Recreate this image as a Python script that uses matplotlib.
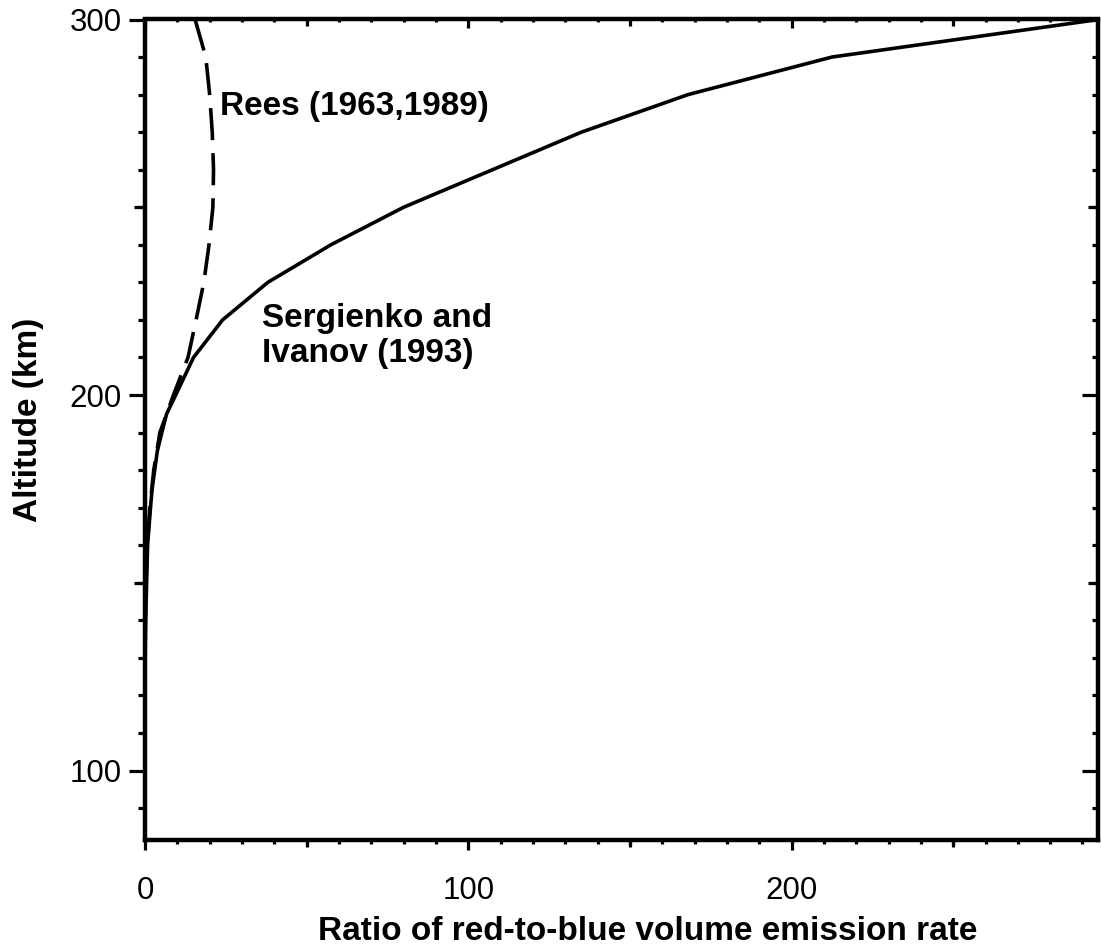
import matplotlib
matplotlib.use("Agg")
import matplotlib.pyplot as plt
from matplotlib.ticker import FixedLocator, MultipleLocator

# ---- data ----
altitude_sergienko = [300, 290, 280, 270, 260, 250, 240, 230, 220, 210, 200, 195,
                      190, 185, 180, 175, 170, 160, 150, 140, 130, 120, 110, 100, 90, 81.5]
ratio_sergienko = [295, 212.5, 168, 135, 107.5, 80, 57.5, 38, 24, 15, 9.5, 6.7,
                   5.2, 3.8, 3.0, 2.2, 1.7, 0.8, 0.5, 0.2, 0.05, 0, 0, 0, 0, 0]

altitude_rees = [300, 290, 280, 270, 260, 250, 240, 230, 220, 210, 200, 190,
                 180, 170, 160, 150, 140, 130]
ratio_rees = [15.5, 18.8, 20.0, 20.8, 21.2, 21.0, 19.8, 18.2, 15.8, 13.3, 8.8, 4.6,
              2.7, 1.5, 0.7, 0.3, 0.1, 0.0]

x_major = [0, 100, 200]
x_mid = [50, 150, 250]
y_major = [100, 200, 300]
y_mid = [150, 250]
x_limits = (0, 294.8)
y_limits = (81.5, 300)

x_label = "Ratio of red-to-blue volume emission rate"
y_label = "Altitude (km)"
label_rees = "Rees (1963,1989)"
label_sergienko = "Sergienko and\nIvanov (1993)"

plt.rcParams['font.family'] = ['Liberation Sans', 'DejaVu Sans']

W, H = 1101, 952
fig = plt.figure(figsize=(W / 100, H / 100), dpi=100)
left, right, top, bottom = 145, 1098, 19.5, 840
ax = fig.add_axes([left / W, 1 - bottom / H, (right - left) / W, (bottom - top) / H])

ax.plot(ratio_sergienko, altitude_sergienko, color='black', lw=2.6)
ax.plot(ratio_rees, altitude_rees, color='black', lw=2.6, linestyle=(0, (8.9, 3.6)))

ax.set_xlim(*x_limits)
ax.set_ylim(*y_limits)

for s in ax.spines.values():
    s.set_linewidth(3.2)

TW = 2.3
TICKFS = 22.5
BOLDFS = 24
# main (bottom / left) ticks, outward
ax.xaxis.set_major_locator(FixedLocator(x_major))
ax.xaxis.set_minor_locator(MultipleLocator(10))
ax.yaxis.set_major_locator(FixedLocator(y_major))
ax.yaxis.set_minor_locator(MultipleLocator(10))
ax.tick_params(axis='x', which='major', direction='out', length=7.2, width=TW,
               labelsize=TICKFS, pad=18.5, top=False)
ax.tick_params(axis='x', which='minor', direction='out', length=2.9, width=TW, top=False)
ax.tick_params(axis='y', which='major', direction='out', length=11.5, width=TW,
               labelsize=TICKFS, pad=5, right=False)
ax.tick_params(axis='y', which='minor', direction='out', length=4.8, width=TW, right=False)


def hide_spines(a):
    for s in a.spines.values():
        s.set_visible(False)


# intermediate (50s) ticks bottom/left
sb = ax.secondary_xaxis('bottom')
sb.set_xticks(x_mid)
sb.tick_params(direction='out', length=5.0, width=TW, labelbottom=False)
hide_spines(sb)

sl = ax.secondary_yaxis('left')
sl.set_yticks(y_mid)
sl.tick_params(direction='out', length=8.2, width=TW, labelleft=False)
hide_spines(sl)

# top ticks, inward
st = ax.secondary_xaxis('top')
st.set_xticks(x_major)
st.xaxis.set_minor_locator(MultipleLocator(10))
st.tick_params(which='major', direction='in', length=6.5, width=TW, labeltop=False)
st.tick_params(which='minor', direction='in', length=2.5, width=TW)
hide_spines(st)
st2 = ax.secondary_xaxis('top')
st2.set_xticks(x_mid)
st2.tick_params(direction='in', length=4.7, width=TW, labeltop=False)
hide_spines(st2)

# right ticks, inward
sr = ax.secondary_yaxis('right')
sr.set_yticks(y_major)
sr.yaxis.set_minor_locator(MultipleLocator(10))
sr.tick_params(which='major', direction='in', length=11.5, width=TW, labelright=False)
sr.tick_params(which='minor', direction='in', length=4.3, width=TW)
hide_spines(sr)
sr2 = ax.secondary_yaxis('right')
sr2.set_yticks(y_mid)
sr2.tick_params(direction='in', length=7.2, width=TW, labelright=False)
hide_spines(sr2)

ax.set_xlabel(x_label, fontsize=BOLDFS, fontweight='bold')
ax.xaxis.set_label_coords(0.528, -0.093)
ax.set_ylabel(y_label, fontsize=BOLDFS, fontweight='bold')
ax.yaxis.set_label_coords(-0.106, (bottom - 420) / (bottom - top))

ax.text(23.2, 276.7, label_rees, fontsize=BOLDFS, fontweight='bold', ha='left', va='center')
ax.text(36.2, 215.7, label_sergienko, fontsize=BOLDFS, fontweight='bold', ha='left',
        va='center', linespacing=1.15)

fig.savefig("out.png", dpi=100)
